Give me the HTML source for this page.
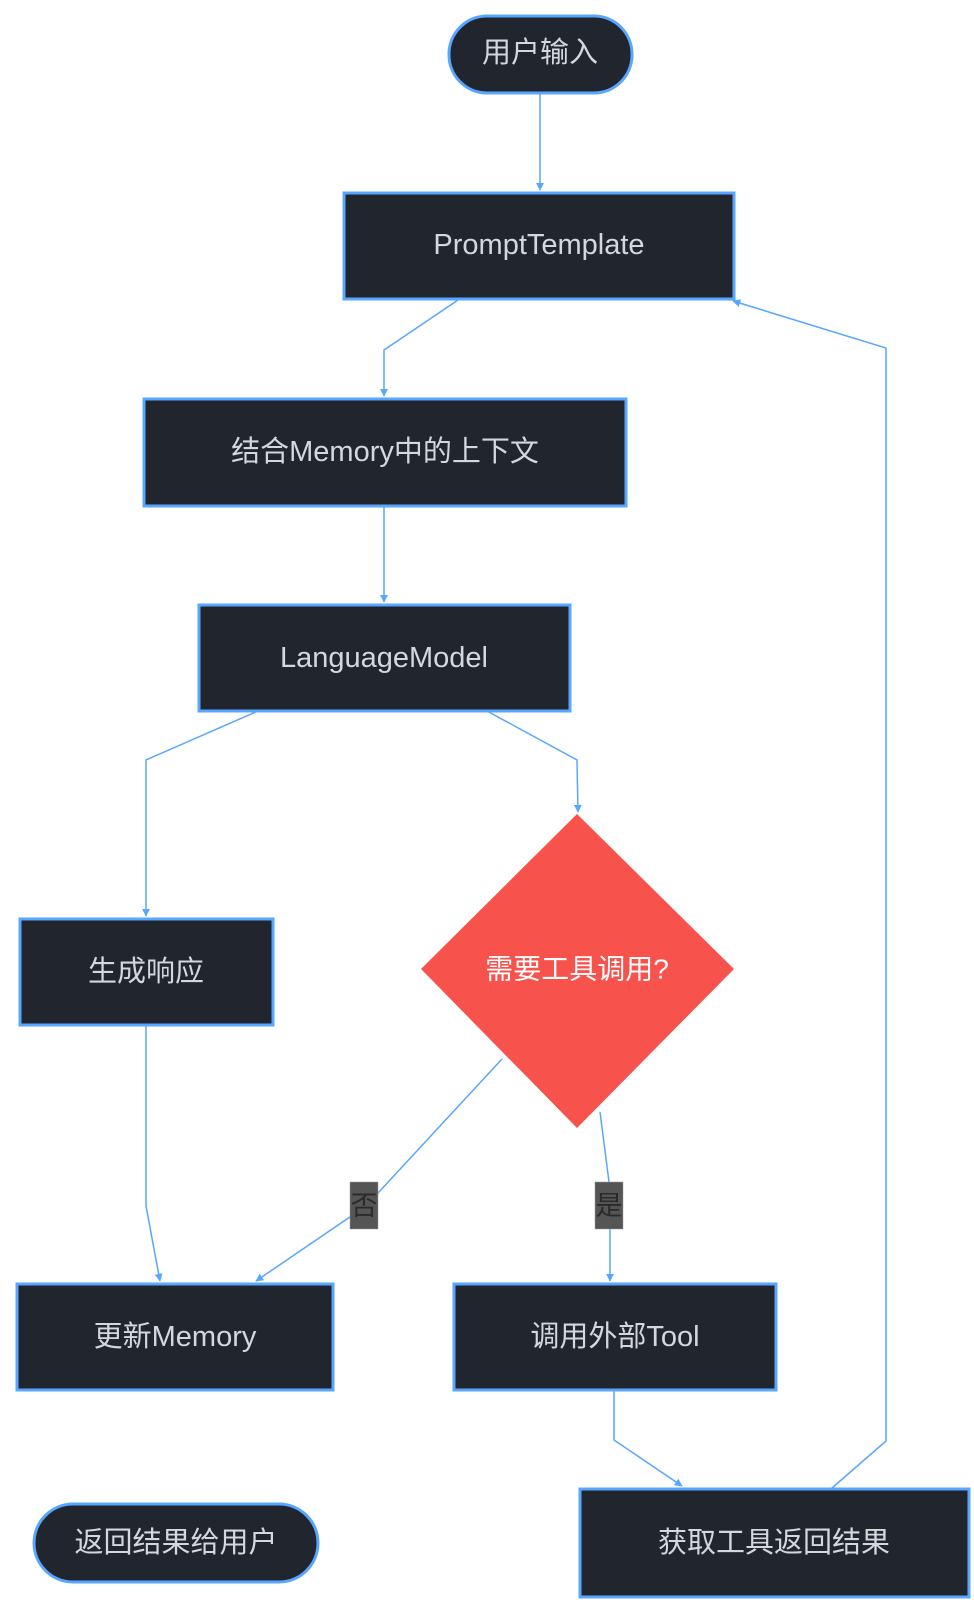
<!DOCTYPE html>
<html><head><meta charset="utf-8"><style>
html,body{margin:0;padding:0;background:#fff;}
svg{display:block;}
text{font-family:"Liberation Sans","Noto Sans CJK SC",sans-serif;}
</style></head><body>
<svg width="974" height="1612" viewBox="0 0 974 1612" xmlns="http://www.w3.org/2000/svg">
<defs>
<marker id="a" viewBox="0 0 10 10" refX="9" refY="5" markerWidth="8" markerHeight="8" orient="auto-start-reverse" markerUnits="userSpaceOnUse"><path d="M0,0L10,5L0,10z" fill="#58a6ff"/></marker>
</defs>
<g fill="none" stroke="#58a6ff" stroke-width="1.5">
<path d="M540,93 L540,190" marker-end="url(#a)"/>
<path d="M458,300 L384,350 L384,396" marker-end="url(#a)"/>
<path d="M384,506 L384,602" marker-end="url(#a)"/>
<path d="M258,711 L146,760 L146,916" marker-end="url(#a)"/>
<path d="M487,711 L577,760 L578,812" marker-end="url(#a)"/>
<path d="M146,1025 L146,1206 L160,1281" marker-end="url(#a)"/>
<path d="M502,1059 L366,1206 L256,1281" marker-end="url(#a)"/>
<path d="M600,1112 L609,1182 M610,1228 L610,1281" marker-end="url(#a)"/>
<path d="M614,1390 L614,1440 L682,1486" marker-end="url(#a)"/>
<path d="M832,1488 L886,1441 L886,348 L733,301" marker-end="url(#a)"/>
</g>
<g stroke="#58a6ff" stroke-width="3" fill="#21252d">
<rect x="449" y="16" width="183" height="77" rx="38"/>
<rect x="344" y="193" width="390" height="106"/>
<rect x="144" y="399" width="482" height="107"/>
<rect x="199" y="605" width="371" height="106"/>
<rect x="20" y="919" width="253" height="106"/>
<rect x="17" y="1284" width="316" height="106"/>
<rect x="454" y="1284" width="322" height="106"/>
<rect x="34" y="1504" width="284" height="78" rx="39"/>
<rect x="580" y="1489" width="389" height="108"/>
</g>
<polygon points="577,814 734,969 577,1128 421,969" fill="#f7524b"/>
<rect x="350" y="1182" width="28" height="47" fill="#555" stroke="#999" stroke-width="0.5"/>
<rect x="595" y="1182" width="28" height="47" fill="#555" stroke="#999" stroke-width="0.5"/>
<g fill="#d4d7dc" font-size="29" text-anchor="middle" dominant-baseline="central">
<text x="540" y="53">用户输入</text>
<text x="539" y="245">PromptTemplate</text>
<text x="385" y="452">结合Memory中的上下文</text>
<text x="384" y="658">LanguageModel</text>
<text x="146" y="972">生成响应</text>
<text x="175" y="1337">更新Memory</text>
<text x="615" y="1337">调用外部Tool</text>
<text x="176" y="1543">返回结果给用户</text>
<text x="774" y="1543">获取工具返回结果</text>
<text x="577" y="969" fill="#ffffff" font-size="28">需要工具调用?</text>
</g>
<g fill="#2a2a2a" font-size="27" text-anchor="middle" dominant-baseline="central">
<text x="364" y="1206">否</text>
<text x="609" y="1206">是</text>
</g>
</svg>
</body></html>
